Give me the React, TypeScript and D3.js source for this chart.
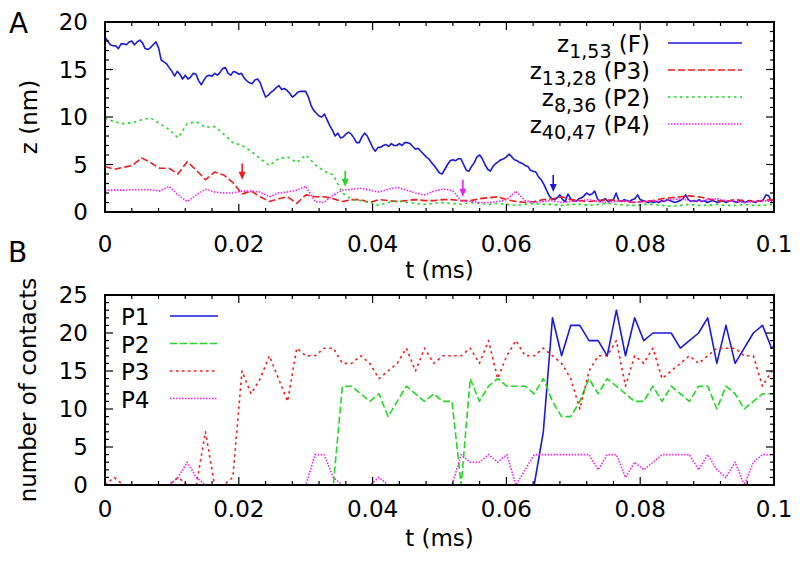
import React from 'react';
import * as d3 from 'd3';

const W = 800;
const H = 564;
const FONT = '"DejaVu Sans", "Liberation Sans", Arial, sans-serif';

// axes
const X_TICKS = [0, 0.02, 0.04, 0.06, 0.08, 0.1];
const X_TICK_LABELS = ['0', '0.02', '0.04', '0.06', '0.08', '0.1'];
const Z_TICKS = [0, 5, 10, 15, 20];
const CONTACT_TICKS = [0, 5, 10, 15, 20, 25];

// panel A: z_{1,53} (F), sampled every 0.0004 ms
const F_DT = 0.0004;
const zF = [
  18.4, 18.0, 17.6, 17.5, 17.5, 17.2, 17.7, 17.7, 17.6, 17.9,
  18.0, 17.6, 17.9, 18.1, 17.8, 17.2, 17.1, 17.3, 17.6, 17.9,
  17.3, 16.0, 15.8, 15.6, 15.2, 14.8, 14.3, 14.8, 14.5, 14.0,
  14.4, 14.0, 14.2, 14.6, 14.5, 13.8, 13.4, 13.9, 14.3, 14.4,
  14.3, 14.6, 14.4, 14.7, 15.1, 15.2, 14.6, 14.4, 14.8, 14.7,
  14.5, 14.6, 14.1, 13.8, 13.6, 13.5, 13.9, 14.0, 13.6, 12.8,
  12.1, 12.3, 12.6, 12.8, 13.1, 13.3, 12.9, 13.0, 12.8, 12.5,
  12.1, 12.3, 12.6, 12.7, 12.7, 12.7, 12.1, 11.2, 10.7, 10.4,
  10.1, 10.0, 10.3, 9.7, 9.1, 8.6, 8.0, 8.3, 7.8, 7.9,
  8.2, 8.4, 8.2, 7.8, 7.3, 7.3, 7.9, 8.3, 8.0, 7.4,
  6.8, 6.4, 6.8, 6.8, 7.0, 7.1, 6.9, 7.2, 7.0, 7.0,
  7.2, 7.0, 7.3, 7.3, 7.2, 6.9, 6.6, 6.7, 6.4, 6.1,
  5.8, 5.6, 5.2, 4.9, 4.5, 4.1, 4.0, 4.5, 5.0, 5.4,
  5.5, 5.4, 5.6, 5.6, 5.0, 4.4, 4.3, 4.8, 5.2, 5.8,
  6.0, 5.6, 5.0, 4.5, 4.3, 4.8, 5.1, 5.3, 5.5, 5.6,
  5.8, 6.1, 5.8, 5.5, 5.4, 5.2, 5.1, 4.9, 4.8, 4.4,
  4.3, 4.2, 3.7, 3.4, 2.9, 2.3, 1.7, 1.4, 1.3, 1.5,
  1.8, 1.3, 1.1, 1.9, 1.4, 1.2, 1.1, 1.4, 1.5, 1.7,
  2.0, 1.8, 1.9, 2.2, 1.4, 1.1, 1.3, 1.4, 1.1, 1.2,
  1.3, 2.0, 1.2, 1.1, 1.3, 1.2, 1.1, 1.3, 1.4, 1.8,
  1.3, 1.2, 1.1, 1.0, 1.1, 1.0, 1.1, 1.0, 1.2, 1.1,
  1.3, 1.2, 1.1, 1.0, 1.1, 1.2, 1.4, 1.8, 1.3, 1.1,
  1.2, 1.1, 1.3, 1.1, 1.2, 1.0, 1.1, 1.2, 1.1, 1.0,
  1.1, 1.2, 1.0, 1.1, 1.2, 1.1, 1.0, 1.1, 1.2, 1.0,
  1.1, 1.2, 1.1, 1.0, 1.2, 1.1, 1.3, 1.8, 1.7, 1.2,
  1.3,
];

// panel A pair distances and panel B contacts, sampled every 0.001365 ms
const SAMPLE_DT = 0.001365;
const zP3 = [
  4.8, 4.5, 4.7, 4.9, 5.7, 5.2, 4.6, 4.6, 4.0, 5.3,
  4.4, 3.4, 4.2, 3.9, 3.1, 1.9, 2.2, 1.6, 1.1, 1.4,
  1.6, 0.9, 1.8, 1.6, 1.6, 1.4, 1.1, 1.3, 1.3, 1.0,
  1.3, 1.2, 1.1, 1.2, 1.3, 1.2, 1.2, 1.3, 1.3, 1.2,
  1.2, 1.4, 1.5, 1.6, 1.3, 1.1, 1.0, 1.1, 1.3, 1.4,
  1.6, 1.3, 1.2, 1.1, 1.2, 1.3, 1.2, 1.1, 1.0, 1.1,
  1.2, 1.4, 1.5, 1.6, 1.7, 1.6, 1.4, 1.2, 1.1, 1.3,
  1.2, 1.1, 1.2, 1.3, 1.2,
];
const zP2 = [
  9.9, 9.5, 9.3, 9.4, 9.7, 9.9, 9.3, 8.7, 7.8, 9.3,
  9.5, 8.9, 9.0, 8.2, 7.3, 7.0, 6.4, 5.6, 4.9, 5.6,
  5.8, 5.2, 6.0, 5.0, 4.3, 3.9, 2.0, 1.3, 1.2, 1.0,
  0.7, 1.0, 1.2, 1.0, 0.9, 0.8, 0.9, 1.0, 0.9, 0.8,
  1.0, 0.9, 0.8, 0.9, 0.8, 0.7, 0.8, 0.9, 0.8, 0.8,
  0.7, 0.8, 0.8, 0.7, 0.8, 0.9, 0.8, 0.7, 0.7, 0.8,
  0.8, 0.7, 0.6, 0.7, 0.8, 0.7, 0.7, 0.8, 0.7, 0.7,
  0.8, 0.7, 0.7, 0.8, 0.7,
];
const zP4 = [
  2.3, 2.3, 2.3, 2.35, 2.35, 2.35, 2.2, 2.7, 1.8, 1.1,
  1.8, 2.4, 2.1, 2.0, 2.0, 2.2, 2.2, 2.1, 1.6, 2.0,
  2.1, 2.3, 2.7, 1.1, 1.0, 1.8, 2.3, 2.4, 2.5, 2.3,
  2.1, 2.4, 2.6, 2.3, 2.0, 1.8, 2.2, 2.4, 2.3, 1.2,
  1.1, 1.0, 1.0, 1.1, 1.3, 2.2, 1.2, 1.0, 1.1, 1.2,
  1.0, 1.1, 1.2, 1.3, 1.1, 1.0, 1.1, 1.2, 1.0, 1.1,
  1.2, 1.1, 1.3, 1.4, 1.2, 1.1, 1.3, 1.4, 1.2, 1.1,
  1.0, 1.1, 1.2, 1.1, 1.0,
];

const cP1 = [
  0, 0, 0, 0, 0, 0, 0, 0, 0, 0,
  0, 0, 0, 0, 0, 0, 0, 0, 0, 0,
  0, 0, 0, 0, 0, 0, 0, 0, 0, 0,
  0, 0, 0, 0, 0, 0, 0, 0, 0, 0,
  0, 0, 0, 0, 0, 0, 0, 0, 7, 22,
  17, 21, 21, 19, 19, 17, 23, 17, 22, 19,
  20, 20, 20, 18, 19, 20, 22, 16, 21, 16,
  18, 20, 21, 18, 19,
];
const cP2 = [
  0, 0, 0, 0, 0, 0, 0, 0, 0, 0,
  0, 0, 0, 0, 0, 0, 0, 0, 0, 0,
  0, 0, 0, 0, 0, 0, 13, 13, 12, 11,
  12, 9, 11, 13, 12, 11, 12, 11, 11, 0,
  14, 11, 13, 14, 13, 13, 13, 12, 14, 11,
  9, 9, 11, 14, 12, 14, 13, 12, 11, 11,
  13, 11, 13, 12, 11, 13, 13, 10, 13, 12,
  10, 11, 12, 12, 12,
];
const cP3 = [
  0, 1, 0, 0, 0, 0, 0, 0, 1, 0,
  0, 7, 0, 0, 1, 15, 12, 14, 17, 14,
  11, 18, 17, 17, 18, 18, 16, 16, 17, 16,
  14, 15, 16, 18, 15, 18, 16, 17, 17, 17,
  18, 16, 19, 14, 17, 19, 17, 17, 18, 17,
  16, 14, 10, 15, 17, 17, 19, 13, 17, 16,
  18, 14, 15, 16, 17, 16, 17, 18, 18, 18,
  17, 17, 13, 15, 17,
];
const cP4 = [
  0, 0, 0, 0, 0, 0, 0, 0, 1, 3,
  1, 0, 0, 0, 0, 0, 0, 0, 0, 0,
  0, 0, 0, 4, 4, 1, 0, 0, 0, 0,
  1, 0, 0, 0, 0, 0, 0, 0, 0, 4,
  3, 3, 4, 3, 4, 0, 2, 4, 4, 4,
  4, 4, 4, 4, 2, 4, 4, 1, 3, 2,
  3, 4, 4, 4, 4, 2, 4, 2, 1, 3,
  0, 3, 4, 4, 4,
];

// arrows in panel A (time, start z, tip z)
const ARROW_T = [0.0205, 0.0359, 0.0535, 0.067];
const ARROW_FROM = [5.1, 4.35, 3.4, 3.9];
const ARROW_TIP = [3.4, 2.65, 1.6, 2.1];

const BLUE = '#1a1ad8';
const RED = '#f01c1c';
const GREEN = '#22d822';
const MAGENTA = '#ee22ee';
const ARROW_COLORS = [RED, GREEN, MAGENTA, BLUE];

const xScale = d3.scaleLinear().domain([0, 0.1]).range([105, 774]);
const zScale = d3.scaleLinear().domain([0, 20]).range([212, 22]);
const cScale = d3.scaleLinear().domain([0, 25]).range([485, 295]);

type Pt = [number, number];
const toPts = (vals: number[], dt: number): Pt[] => vals.map((v, i) => [i * dt, v]);

interface Series {
  pts: Pt[];
  color: string;
  dash?: string;
}

const topSeries: Series[] = [
  { pts: toPts(zF, F_DT), color: BLUE },
  { pts: toPts(zP3, SAMPLE_DT), color: RED, dash: '7,3' },
  { pts: toPts(zP2, SAMPLE_DT), color: GREEN, dash: '2.5,3.5' },
  { pts: toPts(zP4, SAMPLE_DT), color: MAGENTA, dash: '1.5,1.5' },
];
const topLegend = [
  { sub: '1,53', tail: ' (F)' },
  { sub: '13,28', tail: ' (P3)' },
  { sub: '8,36', tail: ' (P2)' },
  { sub: '40,47', tail: ' (P4)' },
];

const bottomSeries: Series[] = [
  { pts: toPts(cP1, SAMPLE_DT), color: BLUE },
  { pts: toPts(cP2, SAMPLE_DT), color: GREEN, dash: '7,3' },
  { pts: toPts(cP3, SAMPLE_DT), color: RED, dash: '2.5,3.5' },
  { pts: toPts(cP4, SAMPLE_DT), color: MAGENTA, dash: '1.5,1.5' },
];
const bottomLegend = ['P1', 'P2', 'P3', 'P4'];

function Frame({ y, yTicks, yMax }: { y: d3.ScaleLinear<number, number>; yTicks: number[]; yMax: number }) {
  const [x0, x1] = xScale.range();
  const [yb, yt] = y.range();
  const xMinor = d3.range(0, 0.1 + 1e-9, 0.004).filter(t => !X_TICKS.some(m => Math.abs(m - t) < 1e-9));
  const yMinor = d3.range(0, yMax + 1e-9, 1).filter(v => v % 5 !== 0);
  const tk: React.ReactNode[] = [];
  X_TICKS.forEach((t, i) => {
    const px = xScale(t);
    tk.push(<line key={`xM${i}`} x1={px} x2={px} y1={yb} y2={yb - 8} />);
    tk.push(<line key={`xMt${i}`} x1={px} x2={px} y1={yt} y2={yt + 8} />);
  });
  xMinor.forEach((t, i) => {
    const px = xScale(t);
    tk.push(<line key={`xm${i}`} x1={px} x2={px} y1={yb} y2={yb - 4} />);
    tk.push(<line key={`xmt${i}`} x1={px} x2={px} y1={yt} y2={yt + 4} />);
  });
  yTicks.forEach((v, i) => {
    const py = y(v);
    tk.push(<line key={`yM${i}`} x1={x0} x2={x0 + 8} y1={py} y2={py} />);
    tk.push(<line key={`yMr${i}`} x1={x1} x2={x1 - 8} y1={py} y2={py} />);
  });
  yMinor.forEach((v, i) => {
    const py = y(v);
    tk.push(<line key={`ym${i}`} x1={x0} x2={x0 + 4} y1={py} y2={py} />);
    tk.push(<line key={`ymr${i}`} x1={x1} x2={x1 - 4} y1={py} y2={py} />);
  });
  return (
    <g stroke="#000">
      <g strokeWidth={1.2}>{tk}</g>
      <rect x={x0} y={yt} width={x1 - x0} height={yb - yt} fill="none" strokeWidth={2} />
    </g>
  );
}

function Lines({ series, y, clip }: { series: Series[]; y: d3.ScaleLinear<number, number>; clip: string }) {
  const line = d3.line<Pt>().x(d => xScale(d[0])).y(d => y(d[1]));
  return (
    <g clipPath={`url(#${clip})`} fill="none">
      {series.map((s, i) => (
        <path key={i} d={line(s.pts) || ''} stroke={s.color} strokeWidth={1.6}
          strokeDasharray={s.dash} strokeLinejoin="round" />
      ))}
    </g>
  );
}

function XLabels({ baseline }: { baseline: number }) {
  return (
    <g fontSize={23} textAnchor="middle">
      {X_TICKS.map((t, i) => (
        <text key={i} x={xScale(t)} y={baseline}>{X_TICK_LABELS[i]}</text>
      ))}
    </g>
  );
}

function YLabels({ y, ticks }: { y: d3.ScaleLinear<number, number>; ticks: number[] }) {
  return (
    <g fontSize={23} textAnchor="end">
      {ticks.map(v => (
        <text key={v} x={88} y={y(v) + 8.4}>{v}</text>
      ))}
    </g>
  );
}

export default function App() {
  const [x0, x1] = xScale.range();
  return (
    <svg width={W} height={H} viewBox={`0 0 ${W} ${H}`}
      style={{ position: 'absolute', left: 0, top: 0, background: '#fff' }}
      fontFamily={FONT} fill="#000">
      <defs>
        <clipPath id="clipA"><rect x={x0} y={zScale(20)} width={x1 - x0} height={zScale(0) - zScale(20)} /></clipPath>
        <clipPath id="clipB"><rect x={x0} y={cScale(25)} width={x1 - x0} height={cScale(0) - cScale(25)} /></clipPath>
      </defs>

      {/* panel A */}
      <text x={9} y={33} fontSize={28}>A</text>
      <Lines series={topSeries} y={zScale} clip="clipA" />
      {ARROW_T.map((t, i) => {
        const ax = xScale(t);
        const y1 = zScale(ARROW_FROM[i]);
        const y2 = zScale(ARROW_TIP[i]);
        return (
          <g key={i}>
            <line x1={ax} x2={ax} y1={y1} y2={y2 - 6} stroke={ARROW_COLORS[i]} strokeWidth={1.6} />
            <path d={`M${ax - 3.5},${y2 - 8}L${ax + 3.5},${y2 - 8}L${ax},${y2}Z`} fill={ARROW_COLORS[i]} />
          </g>
        );
      })}
      {topLegend.map((d, i) => {
        const base = 52 + i * 27;
        const s = topSeries[i];
        return (
          <g key={i}>
            <text x={650} y={base} fontSize={23} textAnchor="end">
              z<tspan fontSize={19} dy={6}>{d.sub}</tspan><tspan dy={-6}>{d.tail}</tspan>
            </text>
            <line x1={668} x2={742} y1={base - 9} y2={base - 9} stroke={s.color}
              strokeWidth={1.6} strokeDasharray={s.dash} />
          </g>
        );
      })}
      <Frame y={zScale} yTicks={Z_TICKS} yMax={20} />
      <YLabels y={zScale} ticks={Z_TICKS} />
      <XLabels baseline={251.5} />
      <text x={(x0 + x1) / 2} y={278} fontSize={23} textAnchor="middle">t (ms)</text>
      <text transform={`translate(37,${(zScale(0) + zScale(20)) / 2}) rotate(-90)`} fontSize={23} textAnchor="middle">z (nm)</text>

      {/* panel B */}
      <text x={8} y={262} fontSize={28}>B</text>
      <Lines series={bottomSeries} y={cScale} clip="clipB" />
      {bottomLegend.map((name, i) => {
        const base = 325 + i * 27.5;
        const s = bottomSeries[i];
        return (
          <g key={name}>
            <text x={121} y={base} fontSize={23}>{name}</text>
            <line x1={170} x2={218} y1={base - 9} y2={base - 9} stroke={s.color}
              strokeWidth={1.6} strokeDasharray={s.dash} />
          </g>
        );
      })}
      <Frame y={cScale} yTicks={CONTACT_TICKS} yMax={25} />
      <YLabels y={cScale} ticks={CONTACT_TICKS} />
      <XLabels baseline={516.5} />
      <text x={(x0 + x1) / 2} y={546} fontSize={23} textAnchor="middle">t (ms)</text>
      <text transform={`translate(36,${(cScale(0) + cScale(25)) / 2}) rotate(-90)`} fontSize={23} textAnchor="middle">number of contacts</text>
    </svg>
  );
}
